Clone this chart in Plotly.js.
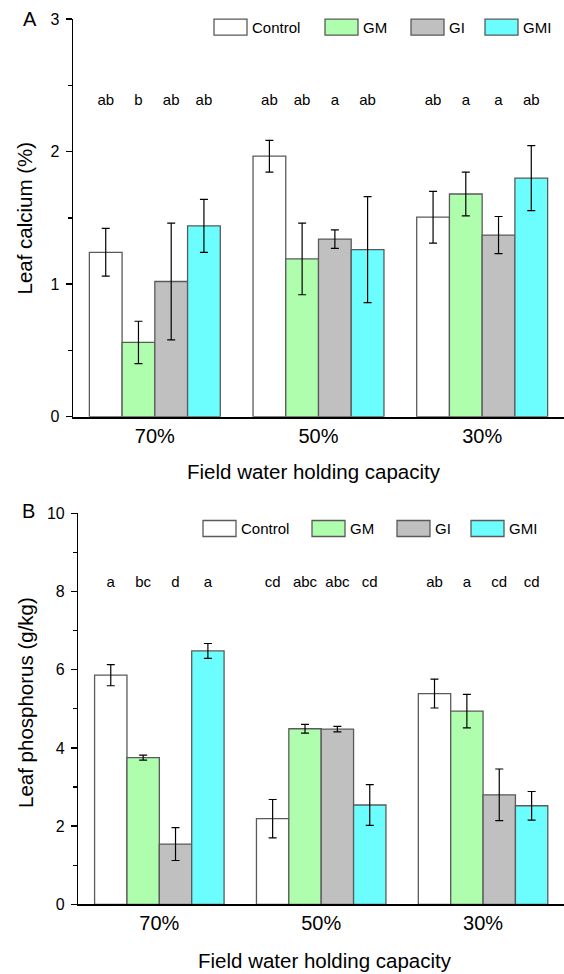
<!DOCTYPE html>
<html>
<head>
<meta charset="utf-8">
<script src="https://cdn.plot.ly/plotly-3.0.1.min.js"></script>
<style>
html,body{margin:0;padding:0;background:#fff;}
#chart{width:564px;height:974px;}
</style>
</head>
<body>
<div id="chart"></div>
<script>
// ---------------- data ----------------
const categories = ["70%", "50%", "30%"];
const seriesNames = ["Control", "GM", "GI", "GMI"];

// Panel A: leaf calcium (%)
const caControl = [1.24, 1.965, 1.505];
const caGM      = [0.56, 1.19, 1.68];
const caGI      = [1.02, 1.34, 1.37];
const caGMI     = [1.44, 1.26, 1.80];
const caControlErr = [0.18, 0.12, 0.195];
const caGMErr      = [0.16, 0.27, 0.165];
const caGIErr      = [0.44, 0.07, 0.14];
const caGMIErr     = [0.20, 0.40, 0.245];
const caLettersControl = ["ab", "ab", "ab"];
const caLettersGM      = ["b", "ab", "a"];
const caLettersGI      = ["ab", "a", "a"];
const caLettersGMI     = ["ab", "ab", "ab"];
const caLetterY = [2.38, 2.38, 2.38];

// Panel B: leaf phosphorus (g/kg)
const pControl = [5.86, 2.19, 5.39];
const pGM      = [3.75, 4.49, 4.94];
const pGI      = [1.54, 4.48, 2.80];
const pGMI     = [6.48, 2.54, 2.52];
const pControlErr = [0.27, 0.49, 0.37];
const pGMErr      = [0.065, 0.11, 0.43];
const pGIErr      = [0.42, 0.07, 0.66];
const pGMIErr     = [0.19, 0.52, 0.365];
const pLettersControl = ["a", "cd", "ab"];
const pLettersGM      = ["bc", "abc", "a"];
const pLettersGI      = ["d", "abc", "cd"];
const pLettersGMI     = ["a", "cd", "cd"];
const pLetterY = [8.2, 8.2, 8.2];

const caTicks = [0, 1, 2, 3];
const pTicks = [0, 2, 4, 6, 8, 10];

// ---------------- styles ----------------
const colors = ["#FFFFFF", "#AEFEAE", "#C0C0C0", "#6CFEFE"];
const FONT = "Liberation Sans, Arial, sans-serif";
const W = 564, H = 974;
const px = x => x / W;
const py = y => 1 - y / H;

const caVals = [caControl, caGM, caGI, caGMI];
const caErrs = [caControlErr, caGMErr, caGIErr, caGMIErr];
const caLet = [caLettersControl, caLettersGM, caLettersGI, caLettersGMI];
const pVals = [pControl, pGM, pGI, pGMI];
const pErrs = [pControlErr, pGMErr, pGIErr, pGMIErr];
const pLet = [pLettersControl, pLettersGM, pLettersGI, pLettersGMI];

const traces = [];
function addPanel(vals, errs, lets, letY, xa, ya) {
  seriesNames.forEach((name, i) => {
    traces.push({
      type: "bar", name: name, x: categories, y: vals[i],
      xaxis: xa, yaxis: ya, offsetgroup: String(i),
      marker: {color: colors[i], line: {color: "#5a5a5a", width: 1.3}},
      error_y: {type: "data", array: errs[i], visible: true, color: "#000", thickness: 1.2, width: 4},
      showlegend: false, hoverinfo: "skip"
    });
  });
  seriesNames.forEach((name, i) => {
    traces.push({
      type: "scatter", mode: "text", x: categories, y: letY, text: lets[i],
      xaxis: xa, yaxis: ya, offsetgroup: String(i),
      textposition: "middle center",
      textfont: {family: FONT, size: 15, color: "#000"},
      showlegend: false, hoverinfo: "skip"
    });
  });
}
addPanel(caVals, caErrs, caLet, caLetterY, "x", "y");
addPanel(pVals, pErrs, pLet, pLetterY, "x2", "y2");

// legend geometry (layout only)
const legTopBoxX = [214, 325, 411, 485];
const legBotBoxX = [203, 312, 397, 471];
const legTopY = 27.2, legBotY = 528.5;
const legBoxW = 33, legBoxH = 16;

const shapes = [];
const annotations = [];
function addLegend(boxX, cy) {
  seriesNames.forEach((name, i) => {
    shapes.push({
      type: "rect", xref: "paper", yref: "paper",
      x0: px(boxX[i]), x1: px(boxX[i] + legBoxW),
      y0: py(cy + legBoxH / 2), y1: py(cy - legBoxH / 2),
      fillcolor: colors[i], line: {color: "#5a5a5a", width: 1.3}
    });
    annotations.push({
      xref: "paper", yref: "paper", x: px(boxX[i] + legBoxW + 3), y: py(cy),
      xanchor: "left", yanchor: "middle", showarrow: false, text: name,
      font: {family: FONT, size: 15, color: "#000"}
    });
  });
}
addLegend(legTopBoxX, legTopY);
addLegend(legBotBoxX, legBotY);

function addText(text, x, y, size, angle) {
  annotations.push({
    xref: "paper", yref: "paper", x: px(x), y: py(y), xanchor: "center", yanchor: "middle",
    showarrow: false, text: text, textangle: angle || 0,
    font: {family: FONT, size: size, color: "#000"}
  });
}
addText("A", 29.5, 18.5, 20);
addText("B", 28, 510.6, 20);
addText("Field water holding capacity", 313.5, 471, 20.5);
addText("Field water holding capacity", 325, 960, 20.5);
addText("Leaf calcium (%)", 24.5, 218, 20.5, -90);
addText("Leaf phosphorus (g/kg)", 25, 703, 20.5, -90);

const xCommon = {
  type: "category", range: [-0.5, 2.5], showline: true, linecolor: "#000", linewidth: 2,
  ticks: "", showgrid: false, zeroline: false,
  tickfont: {family: FONT, size: 20, color: "#000"}, ticklabelstandoff: 0, fixedrange: true
};
function yCommon(range, dtick, minorDtick, tickvals) {
  return {
    range: range, tickvals: tickvals, showline: true, linecolor: "#000", linewidth: 1.5,
    ticks: "outside", ticklen: 6, tickwidth: 1.3, tickcolor: "#000",
    minor: {dtick: minorDtick, ticks: "outside", ticklen: 3.5, tickwidth: 1.3, tickcolor: "#000"},
    showgrid: false, zeroline: false, ticklabelstandoff: 3,
    tickfont: {family: FONT, size: 16, color: "#000"}, fixedrange: true
  };
}

const layout = {
  width: W, height: H,
  margin: {l: 0, r: 0, t: 0, b: 0},
  paper_bgcolor: "#fff", plot_bgcolor: "rgba(0,0,0,0)",
  barmode: "group", bargap: 0.2, bargroupgap: 0,
  scattermode: "group", scattergap: 0.2,
  showlegend: false,
  font: {family: FONT, color: "#000"},
  xaxis: Object.assign({}, xCommon, {domain: [px(73), 1], anchor: "y"}),
  yaxis: Object.assign(yCommon([0, 3], 1, 0.5, caTicks), {domain: [py(416.7), py(19)], anchor: "x"}),
  xaxis2: Object.assign({}, xCommon, {domain: [px(78.4), 1], anchor: "y2"}),
  yaxis2: Object.assign(yCommon([0, 10], 2, 1, pTicks), {domain: [py(904.3), py(513.3)], anchor: "x2"}),
  shapes: shapes,
  annotations: annotations
};

Plotly.newPlot("chart", traces, layout, {displayModeBar: false, staticPlot: true});
</script>
</body>
</html>
